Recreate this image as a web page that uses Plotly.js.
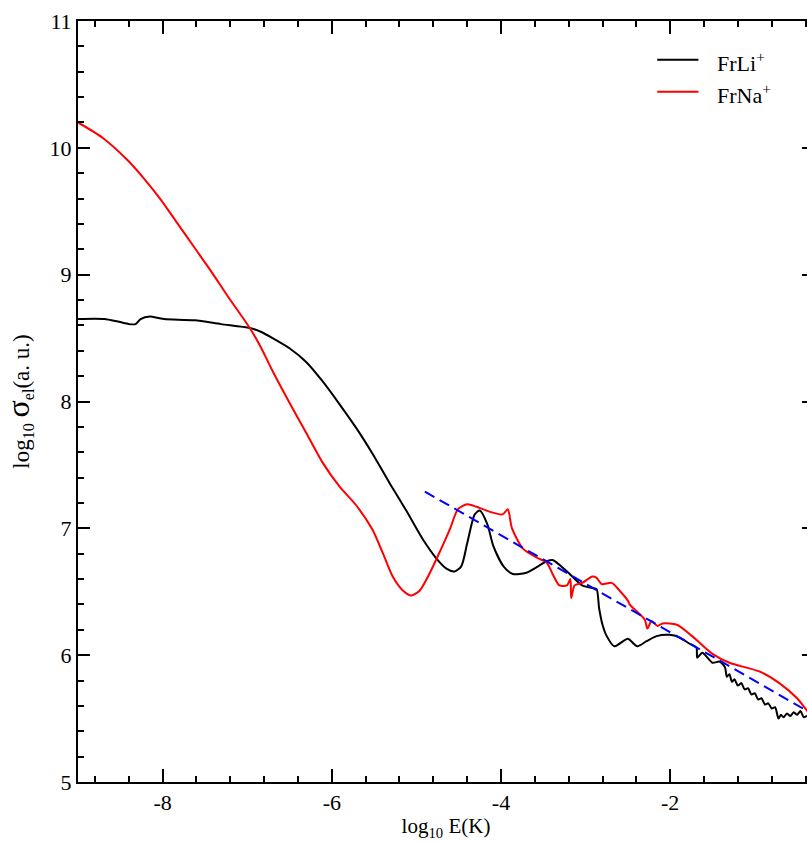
<!DOCTYPE html>
<html>
<head>
<meta charset="utf-8">
<script src="https://cdn.plot.ly/plotly-3.0.1.min.js"></script>
<style>
html, body { margin: 0; padding: 0; overflow: hidden; background: #fff; }
#chart { width: 830px; height: 843px; }
</style>
</head>
<body>
<div id="chart"></div>
<script>
// FrLi+ elastic cross section (log10 sigma_el) vs log10 E(K)
const liX = [-9.00,-8.69,-8.53,-8.39,-8.32,-8.26,-8.15,-8.06,-7.98,-7.62,-7.31,-6.97,-6.84,-6.70,-6.50,-6.30,-6.11,-5.91,-5.71,-5.52,-5.32,-5.12,-4.93,-4.76,-4.64,-4.55,-4.47,-4.40,-4.31,-4.25,-4.16,-4.09,-3.97,-3.86,-3.70,-3.46,-3.39,-3.22,-3.04,-2.92,-2.87,-2.84,-2.80,-2.75,-2.66,-2.60,-2.50,-2.39,-2.28,-2.16,-2.01,-1.89,-1.77,-1.69,-1.68,-1.62,-1.50,-1.42,-1.38,-1.35,-1.33,-1.30,-1.27,-1.24,-1.20,-1.16,-1.12,-1.08,-1.04,-1.00,-0.96,-0.92,-0.88,-0.84,-0.80,-0.76,-0.72,-0.69,-0.66,-0.62,-0.58,-0.54,-0.50,-0.46,-0.42,-0.38,-0.34,-0.30];
const liY = [8.65,8.65,8.63,8.61,8.61,8.65,8.67,8.66,8.65,8.64,8.61,8.58,8.55,8.50,8.42,8.31,8.16,7.98,7.79,7.59,7.36,7.14,6.92,6.76,6.68,6.66,6.70,6.88,7.11,7.14,7.03,6.86,6.70,6.64,6.65,6.74,6.75,6.66,6.55,6.53,6.52,6.37,6.24,6.15,6.07,6.09,6.13,6.07,6.11,6.15,6.16,6.14,6.09,6.06,5.98,6.02,5.94,5.95,5.93,5.90,5.83,5.85,5.79,5.81,5.76,5.78,5.73,5.74,5.69,5.70,5.65,5.66,5.61,5.62,5.58,5.59,5.50,5.53,5.51,5.54,5.52,5.55,5.53,5.56,5.51,5.52,5.49,5.50];

// FrNa+
const naX = [-9.00,-8.71,-8.41,-8.21,-8.02,-7.82,-7.62,-7.43,-7.23,-6.97,-6.84,-6.70,-6.50,-6.30,-6.11,-5.91,-5.71,-5.52,-5.40,-5.28,-5.16,-5.06,-4.96,-4.84,-4.72,-4.60,-4.51,-4.40,-4.29,-4.13,-3.98,-3.92,-3.87,-3.74,-3.58,-3.46,-3.39,-3.31,-3.22,-3.18,-3.17,-3.13,-3.04,-2.92,-2.87,-2.81,-2.69,-2.60,-2.50,-2.48,-2.30,-2.27,-2.22,-2.15,-2.09,-1.92,-1.74,-1.50,-1.30,-0.94,-0.71,-0.50,-0.38,-0.30];
const naY = [10.20,10.08,9.90,9.75,9.59,9.40,9.21,9.03,8.83,8.58,8.43,8.24,7.99,7.75,7.52,7.33,7.18,6.99,6.81,6.62,6.51,6.47,6.51,6.65,6.82,7.00,7.15,7.19,7.17,7.13,7.11,7.15,7.00,6.84,6.77,6.73,6.64,6.55,6.55,6.60,6.45,6.55,6.57,6.62,6.61,6.56,6.57,6.51,6.43,6.40,6.28,6.21,6.27,6.23,6.25,6.24,6.15,6.01,5.94,5.87,5.78,5.66,5.56,5.50];

// fitted trend (blue dashed)
const fitX = [-4.90, -0.30];
const fitY = [7.29, 5.53];

const seriesNames = ['FrLi<sup>+</sup>', 'FrNa<sup>+</sup>'];
const seriesColors = ['#000000', '#ff0000'];

const xTickVals = [-8, -6, -4, -2];
const xTickText = ['-8', '-6', '-4', '-2'];
const yTickVals = [5, 6, 7, 8, 9, 10, 11];
const yTickText = ['5', '6', '7', '8', '9', '10', '11'];

const FONT = 'Liberation Serif';

const traces = [
  { x: liX, y: liY, mode: 'lines', name: seriesNames[0], showlegend: false,
    line: { color: seriesColors[0], width: 2, shape: 'spline', smoothing: 0.7 } },
  { x: naX, y: naY, mode: 'lines', name: seriesNames[1], showlegend: false,
    line: { color: seriesColors[1], width: 2, shape: 'spline', smoothing: 0.7 } },
  { x: fitX, y: fitY, mode: 'lines', showlegend: false,
    line: { color: '#0000ff', width: 2, dash: '11px,6px' } }
];

// manual legend (paper coordinates)
const legLineX = [0.787, 0.843];
const legTextX = 0.866;
const legRowY = [0.949, 0.907];
const shapes = [];
const annotations = [];
seriesNames.forEach((nm, i) => {
  shapes.push({ type: 'line', xref: 'paper', yref: 'paper',
    x0: legLineX[0], x1: legLineX[1], y0: legRowY[i], y1: legRowY[i],
    line: { color: seriesColors[i], width: 2 } });
  annotations.push({ xref: 'paper', yref: 'paper', x: legTextX, y: legRowY[i] - 0.003,
    xanchor: 'left', yanchor: 'middle', text: nm, showarrow: false,
    font: { family: FONT, size: 22, color: '#000' } });
});

const axisCommon = {
  showgrid: false, zeroline: false, showline: true, linecolor: '#000', linewidth: 2,
  mirror: 'ticks', ticks: 'inside', tickwidth: 2, tickcolor: '#000',
  tickfont: { family: FONT, size: 22, color: '#000' }
};

const layout = {
  width: 830, height: 843,
  margin: { l: 78, r: 16, t: 21, b: 61 },
  paper_bgcolor: '#fff', plot_bgcolor: '#fff',
  font: { family: FONT, size: 20, color: '#000' },
  showlegend: false,
  shapes: shapes,
  annotations: annotations,
  xaxis: Object.assign({}, axisCommon, {
    range: [-9, -0.3], tickmode: 'array', tickvals: xTickVals, ticktext: xTickText, ticklen: 13,
    minor: { dtick: 0.4, tick0: 0, ticklen: 6, ticks: 'inside', tickwidth: 2, tickcolor: '#000' },
    title: { text: 'log<sub>10</sub> E(K)', font: { family: FONT, size: 21 }, standoff: 4 }
  }),
  yaxis: Object.assign({}, axisCommon, {
    range: [5, 11], tickmode: 'array', tickvals: yTickVals, ticktext: yTickText, ticklen: 12,
    minor: { dtick: 0.2, tick0: 0, ticklen: 6, ticks: 'inside', tickwidth: 2, tickcolor: '#000' },
    title: { text: 'log<sub>10</sub> <span style="font-size:32px">σ</span><sub>el</sub>(a. u.)', font: { family: FONT, size: 23 }, standoff: 14 }
  })
};

Plotly.newPlot('chart', traces, layout, { displayModeBar: false, staticPlot: true });
</script>
</body>
</html>
